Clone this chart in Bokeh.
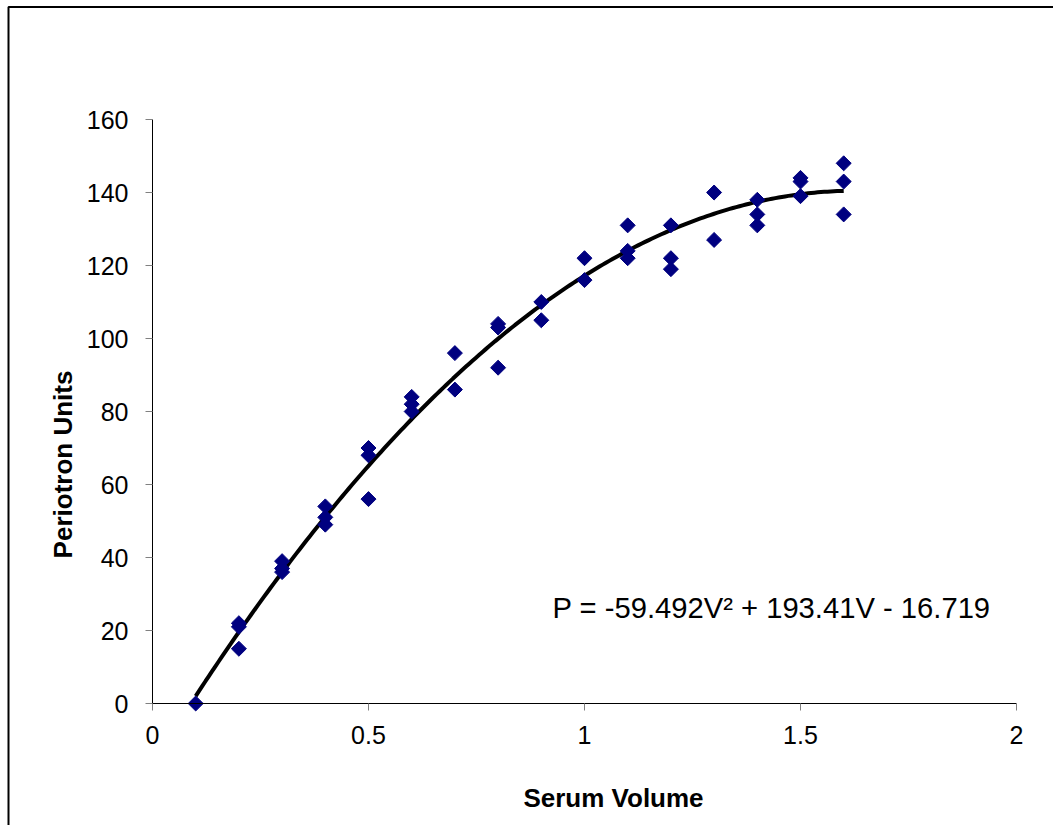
import numpy as np
from math import pi
from bokeh.plotting import figure
from bokeh.models import (Range1d, FixedTicker, NumeralTickFormatter, Label,
                          BoxAnnotation, ColumnDataSource)
from bokeh.embed import file_html
from bokeh.resources import INLINE

# ---- data ----
serum_volume = [0.1,
                0.2, 0.2, 0.2,
                0.3, 0.3, 0.3,
                0.4, 0.4, 0.4,
                0.5, 0.5, 0.5,
                0.6, 0.6, 0.6,
                0.7, 0.7,
                0.8, 0.8, 0.8,
                0.9, 0.9,
                1.0, 1.0,
                1.1, 1.1, 1.1,
                1.2, 1.2, 1.2,
                1.3, 1.3,
                1.4, 1.4, 1.4,
                1.5, 1.5, 1.5,
                1.6, 1.6, 1.6]
periotron_units = [0,
                   22, 21, 15,
                   39, 37, 36,
                   54, 51, 49,
                   70, 68, 56,
                   84, 82, 80,
                   96, 86,
                   104, 103, 92,
                   110, 105,
                   122, 116,
                   131, 124, 122,
                   131, 122, 119,
                   140, 127,
                   138, 134, 131,
                   144, 143, 139,
                   148, 143, 134]

# trendline coefficients as printed on the chart
trend_a = -59.492
trend_b = 193.41
trend_c = -16.719
equation_text = "P = -59.492V\u00b2 + 193.41V - 16.719"

x_ticks = [0, 0.5, 1, 1.5, 2]
y_ticks = [0, 20, 40, 60, 80, 100, 120, 140, 160]
x_bounds = (0, 2)
y_bounds = (0, 160)
x_title = "Serum Volume"
y_title = "Periotron Units"

FONT = "Liberation Sans"
W, H = 1053, 825
# pixel layout of the plot area inside the page
PX_LEFT, PX_RIGHT, PX_TOP, PX_BOTTOM = 152, 1016, 119, 703
kx = (x_bounds[1] - x_bounds[0]) / (PX_RIGHT - PX_LEFT)
ky = (y_bounds[1] - y_bounds[0]) / (PX_BOTTOM - PX_TOP)


def dx(px):
    return x_bounds[0] + (px - PX_LEFT) * kx


def dy(py):
    return y_bounds[0] + (PX_BOTTOM - py) * ky


p = figure(width=W, height=H, output_backend="svg", toolbar_location=None,
           x_range=Range1d(dx(0), dx(W)), y_range=Range1d(dy(H), dy(0)),
           min_border_left=0, min_border_right=0,
           min_border_top=0, min_border_bottom=0)
p.outline_line_color = None
p.grid.visible = False
p.background_fill_color = "white"
p.border_fill_color = "white"

for ax in (p.xaxis[0], p.yaxis[0]):
    ax.axis_line_color = "black"
    ax.axis_line_width = 1
    ax.major_tick_line_color = "#808080"
    ax.major_tick_in = 0
    ax.major_tick_out = 7
    ax.minor_tick_line_color = None
    ax.major_label_text_font = FONT
    ax.major_label_text_font_size = "25px"
    ax.major_label_text_color = "black"

p.xaxis.fixed_location = y_bounds[0]
p.yaxis.fixed_location = x_bounds[0]
p.xaxis.bounds = x_bounds
p.yaxis.bounds = y_bounds
p.xaxis.ticker = FixedTicker(ticks=x_ticks)
p.yaxis.ticker = FixedTicker(ticks=y_ticks)
p.xaxis.formatter = NumeralTickFormatter(format="0.[0]")
p.yaxis.formatter = NumeralTickFormatter(format="0")
p.yaxis.major_label_standoff = 17
p.xaxis.major_label_standoff = 15

# trendline from printed coefficients
vmin, vmax = min(serum_volume), max(serum_volume)
tx = np.linspace(vmin, vmax, 200)
ty = trend_a * tx ** 2 + trend_b * tx + trend_c
p.line(tx, ty, line_color="black", line_width=4)

src = ColumnDataSource(dict(x=serum_volume, y=periotron_units))
p.scatter("x", "y", source=src, marker="square", size=10.6, angle=pi / 4,
          fill_color="#000080", line_color="#000080", line_width=1)

p.add_layout(Label(x=dx(552), y=dy(607), text=equation_text, text_align="left",
                   text_baseline="alphabetic", text_font=FONT,
                   text_font_size="29.2px", text_color="black"))

p.add_layout(Label(x=dx(62), y=dy(464), text=y_title, angle=pi / 2,
                   text_align="center", text_baseline="middle",
                   text_font=FONT, text_font_style="bold",
                   text_font_size="26px", text_color="black"))
p.add_layout(Label(x=dx(613), y=dy(797), text=x_title,
                   text_align="center", text_baseline="middle",
                   text_font=FONT, text_font_style="bold",
                   text_font_size="26px", text_color="black"))

# outer chart-area border (left and top edges visible, rest off-page)
p.add_layout(BoxAnnotation(left=dx(8), right=dx(W + 50), top=dy(6.5),
                           bottom=dy(H + 50), fill_alpha=0,
                           line_color="black", line_alpha=1.0, line_width=2))

open("out.html", "w").write(file_html(p, INLINE))
